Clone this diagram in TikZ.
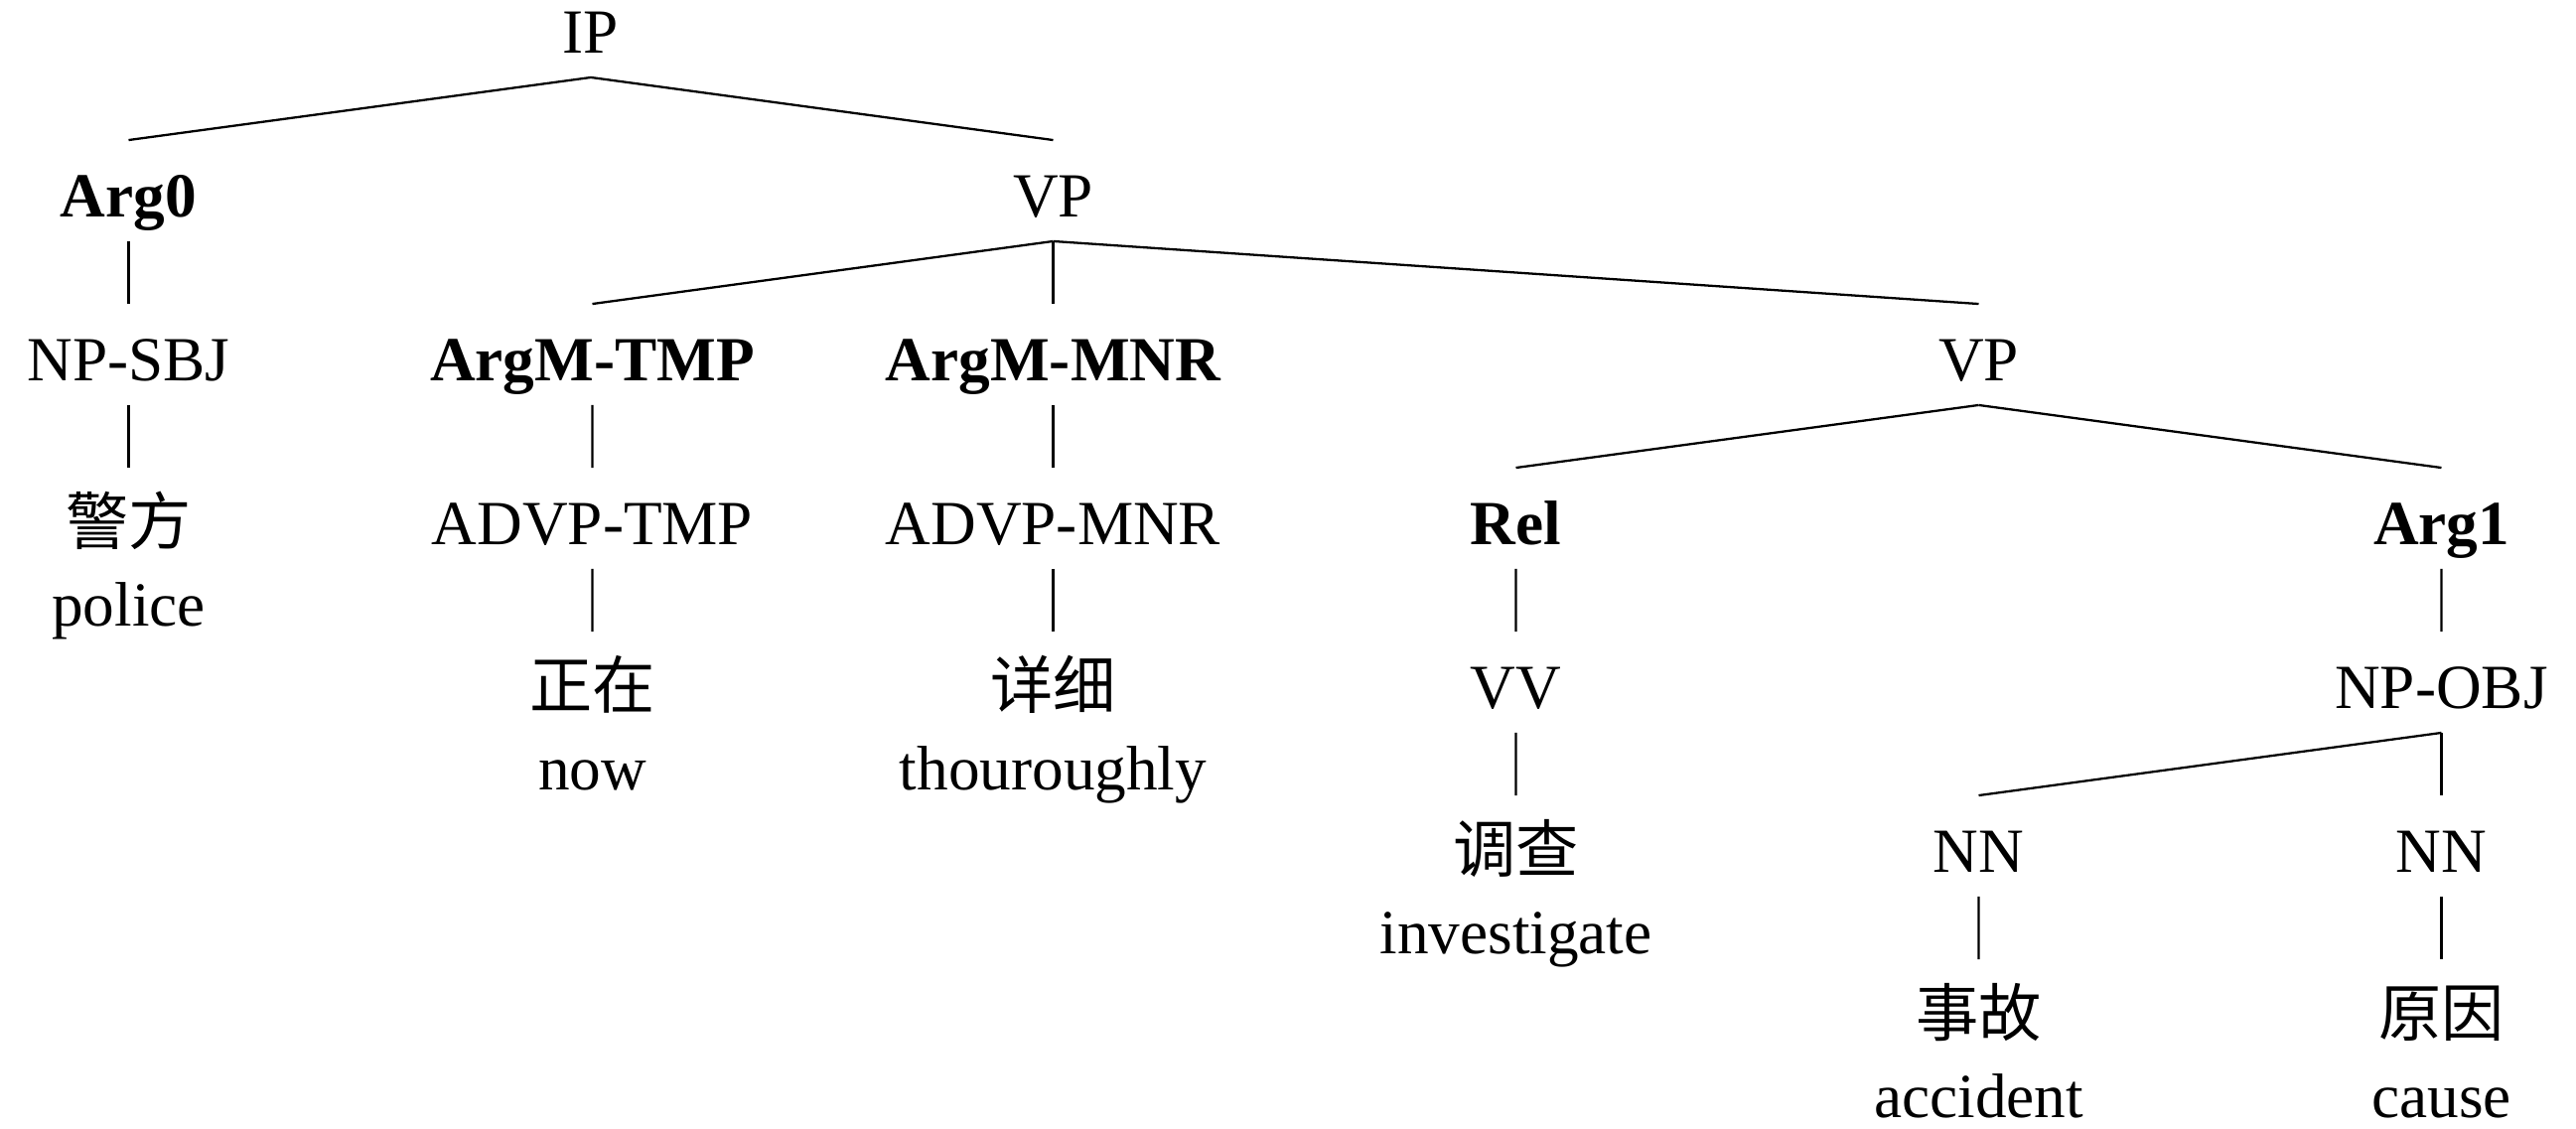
\documentclass[tikz,border=0pt]{standalone}
\usepackage{fontspec}
\setmainfont{Liberation Serif}
\newfontfamily\cjk{Noto Sans CJK SC}
\usepackage{tikz}
\usetikzlibrary{trees}
\usetikzlibrary{calc,positioning}
\tikzset{
  tnode/.style={font=\fontsize{18}{22}\selectfont, inner xsep=2pt, inner ysep=6.8pt, text height=15pt, text depth=0pt},
  role/.style={tnode, font=\fontsize{18}{22}\selectfont\bfseries},
  zh/.style={tnode, font=\fontsize{18}{22}\selectfont\cjk},
  gloss/.style={tnode, inner ysep=1pt}
}

\begin{document}
\begin{tikzpicture}[level distance=1.65cm, parent anchor=south, child anchor=north,
    edge from parent/.style={draw, line width=0.65pt}]
  \useasboundingbox (0,0) rectangle (25.94,11.36);
  \tikzstyle{every node}=[tnode]
  \node (ip) at (5.95,11.09) {IP} [sibling distance=9.31cm]
    child {node[role] (arg0) {Arg0}
      child {node (npsbj) {NP-SBJ}
        child {node[zh] (jingfang) {警方}}}}
    child {node (vp) {VP}
      child[sibling distance=4.64cm] {node[role] (argmtmp) {ArgM-TMP}
        child {node (advptmp) {ADVP-TMP}
          child {node[zh] (zhengzai) {正在}}}}
      child {node[role] (argmmnr) {ArgM-MNR}
        child {node (advpmnr) {ADVP-MNR}
          child {node[zh] (xiangxi) {详细}}}}
      child[sibling distance=9.32cm] {node (vp2) {VP}
        child {node[role] (rel) {Rel}
          child {node (vv) {VV}
            child {node[zh] (diaocha) {调查}}}}
        child {node[role] (arg1) {Arg1}
          child {node (npobj) {NP-OBJ}
            child {node (nn1) {NN}
              child {node[zh] (shigu) {事故}}}
            child[sibling distance=0cm] {node (nn2) {NN}
              child {node[zh] (yuanyin) {原因}}}}}}};
  % glosses under the words
  \node[gloss] (police) at ([yshift=-8.2mm]jingfang.center) {police};
  \node[gloss] (now) at ([yshift=-8.2mm]zhengzai.center) {now};
  \node[gloss] (thoroughly) at ([yshift=-8.2mm]xiangxi.center) {thouroughly};
  \node[gloss] (investigate) at ([yshift=-8.2mm]diaocha.center) {investigate};
  \node[gloss] (accident) at ([yshift=-8.2mm]shigu.center) {accident};
  \node[gloss] (cause) at ([yshift=-8.2mm]yuanyin.center) {cause};
\end{tikzpicture}
\end{document}
